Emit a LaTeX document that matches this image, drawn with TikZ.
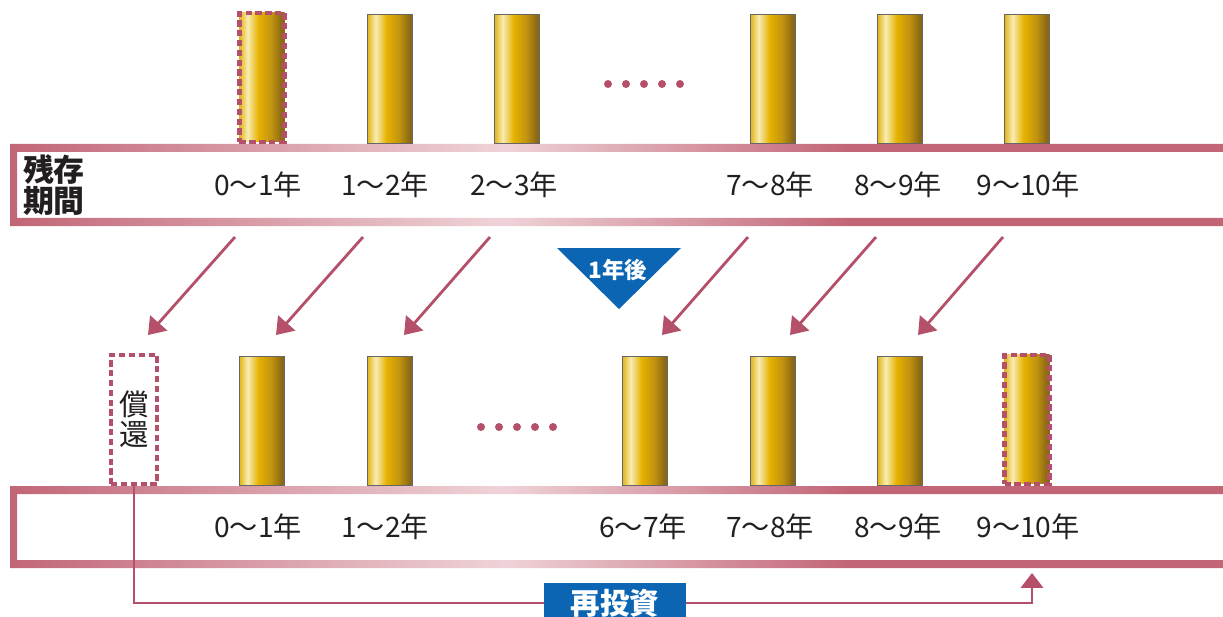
\documentclass[tikz,border=0pt]{standalone}
\usepackage{fontspec}
\setmainfont{Noto Sans CJK JP}
\usepackage{tikz}
\usetikzlibrary{arrows.meta}

\definecolor{rose}{HTML}{B5506A}
\definecolor{bandDark}{HTML}{C26677}
\definecolor{bandLight}{HTML}{EFD3D8}
\definecolor{navy}{HTML}{0B65B2}
\definecolor{ink}{HTML}{231F20}
\definecolor{goldA}{HTML}{E2B516}
\definecolor{goldB}{HTML}{F8EDB4}
\definecolor{goldC}{HTML}{E6B200}
\definecolor{goldD}{HTML}{C29410}
\definecolor{goldE}{HTML}{8A6814}

\pgfdeclarehorizontalshading{gold}{100bp}{color(0bp)=(goldA); color(25bp)=(goldA); color(34bp)=(goldB); color(46bp)=(goldC); color(60bp)=(goldD); color(72bp)=(goldE); color(100bp)=(goldE)}
\pgfdeclarehorizontalshading{band}{100bp}{color(0bp)=(bandDark); color(25bp)=(bandDark); color(45bp)=(bandLight); color(59bp)=(bandDark); color(100bp)=(bandDark)}

\begin{document}
\begin{tikzpicture}[x=0.025cm, y=-0.025cm,
	goldbar/.style={rectangle, draw=black!60, line width=0.6pt, shading=gold, minimum width=1.125cm, minimum height=3.225cm, inner sep=0pt, anchor=south},
	dashbar/.style={goldbar, draw=rose, line width=3pt, dash pattern=on 4.5pt off 2.5pt},
	redeembox/.style={rectangle, draw=rose, fill=white, line width=3pt, dash pattern=on 4.5pt off 2.5pt, minimum width=1.15cm, minimum height=3.225cm, inner sep=0pt, anchor=south, align=center, text=ink, font=\fontsize{21pt}{21pt}\selectfont},
	yearlabel/.style={text=ink, inner sep=0pt, font=\fontsize{20pt}{22pt}\selectfont},
	movearrow/.style={rose, line width=2pt, -{Triangle[length=11.5pt,width=16pt]}},
	returnline/.style={rose, line width=1.4pt, -{Triangle[length=10.6pt,width=16pt]}},
	navybox/.style={fill=navy, text=white, minimum width=3.525cm, minimum height=1cm, inner sep=0pt, font=\bfseries\fontsize{21pt}{23pt}\selectfont}]

	\useasboundingbox (0,0) rectangle (1223,617);

	\shade[shading=band, even odd rule] (10,144) rectangle (1240,226) (17,152) rectangle (1240,218);
	\shade[shading=band, even odd rule] (10,486) rectangle (1240,568) (17,494) rectangle (1240,560);

	\node[dashbar] (tb1) at (262,144) {};
	\node[goldbar] (tb2) at (390,144) {};
	\node[goldbar] (tb3) at (517,144) {};
	\node[goldbar] (tb4) at (773,144) {};
	\node[goldbar] (tb5) at (900,144) {};
	\node[goldbar] (tb6) at (1027,144) {};
	\fill[rose] (608,84) circle[radius=0.1cm] (626,84) circle[radius=0.1cm] (644,84) circle[radius=0.1cm] (662,84) circle[radius=0.1cm] (680,84) circle[radius=0.1cm];

	\node[text=ink, align=left, inner sep=0pt, font=\bfseries\fontsize{22pt}{22pt}\selectfont] (term) at (54,185) {残存\\期間};
	\node[yearlabel] (tl1) at (258,185) {0〜1年};
	\node[yearlabel] (tl2) at (385,185) {1〜2年};
	\node[yearlabel] (tl3) at (514,185) {2〜3年};
	\node[yearlabel] (tl4) at (770,185) {7〜8年};
	\node[yearlabel] (tl5) at (898,185) {8〜9年};
	\node[yearlabel] (tl6) at (1028,185) {9〜10年};

	\fill[navy] (557,248) -- (681,248) -- (619,309) -- cycle;
	\node[text=white, inner sep=0pt, font=\bfseries\fontsize{16pt}{18pt}\selectfont] (later) at (618,270) {1年後};

	\coordinate (a1s) at (235,237); \coordinate (a1e) at (148,335);
	\coordinate (a2s) at (363,237); \coordinate (a2e) at (276,335);
	\coordinate (a3s) at (490,237); \coordinate (a3e) at (404,335);
	\coordinate (a4s) at (748,237); \coordinate (a4e) at (662,335);
	\coordinate (a5s) at (876,237); \coordinate (a5e) at (790,335);
	\coordinate (a6s) at (1003,237); \coordinate (a6e) at (918,335);
	\draw[movearrow] (a1s) -- (a1e);
	\draw[movearrow] (a2s) -- (a2e);
	\draw[movearrow] (a3s) -- (a3e);
	\draw[movearrow] (a4s) -- (a4e);
	\draw[movearrow] (a5s) -- (a5e);
	\draw[movearrow] (a6s) -- (a6e);

	\node[redeembox] (rdm) at (134,486) {償\\還};
	\node[goldbar] (bb1) at (262,486) {};
	\node[goldbar] (bb2) at (390,486) {};
	\node[goldbar] (bb3) at (645,486) {};
	\node[goldbar] (bb4) at (773,486) {};
	\node[goldbar] (bb5) at (900,486) {};
	\node[dashbar] (bb6) at (1027,486) {};
	\fill[rose] (481,427) circle[radius=0.1cm] (499,427) circle[radius=0.1cm] (517,427) circle[radius=0.1cm] (535,427) circle[radius=0.1cm] (553,427) circle[radius=0.1cm];

	\node[yearlabel] (bl1) at (258,527) {0〜1年};
	\node[yearlabel] (bl2) at (385,527) {1〜2年};
	\node[yearlabel] (bl3) at (643,527) {6〜7年};
	\node[yearlabel] (bl4) at (770,527) {7〜8年};
	\node[yearlabel] (bl5) at (898,527) {8〜9年};
	\node[yearlabel] (bl6) at (1028,527) {9〜10年};

	\coordinate (turn) at (134,603);
	\coordinate (back) at (1032,573);
	\draw[returnline] (rdm.south) -- (turn) -| (back);
	\node[navybox] (reinv) at (615,603) {再投資};

\end{tikzpicture}
\end{document}
